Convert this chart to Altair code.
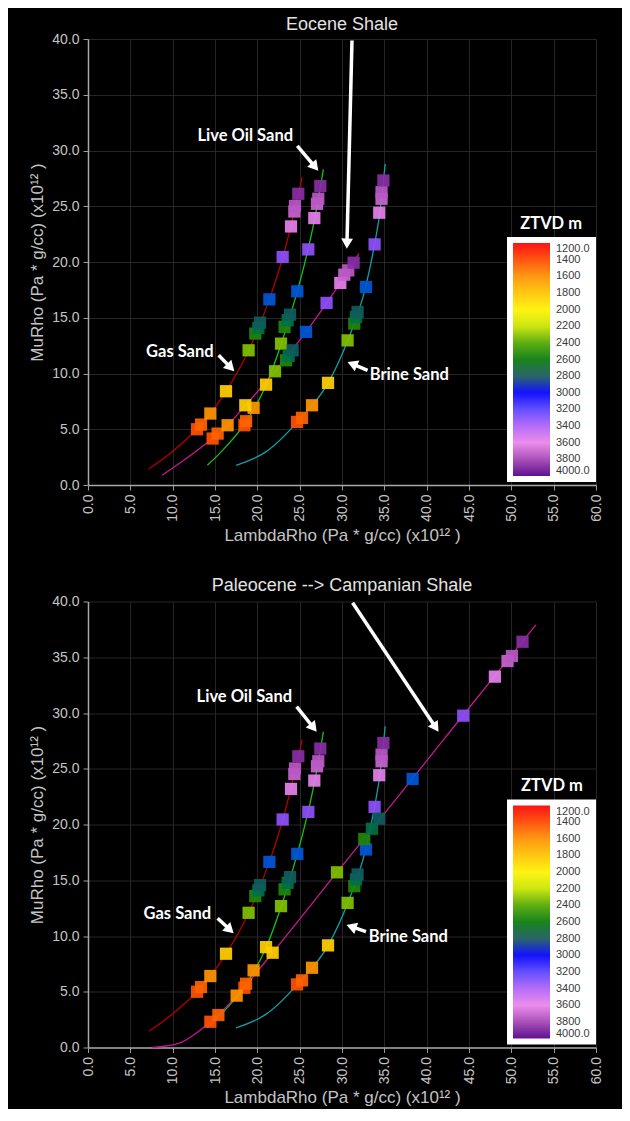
import math
import altair as alt
import pandas as pd

# ---------------- data ----------------
X_TICKS = [0, 5, 10, 15, 20, 25, 30, 35, 40, 45, 50, 55, 60]
Y_TICKS = [0, 5, 10, 15, 20, 25, 30, 35, 40]
DEPTH_TICKS = [1200, 1400, 1600, 1800, 2000, 2200, 2400, 2600, 2800, 3000,
               3200, 3400, 3600, 3800, 4000]
DEPTH_COLORS = ["#ff0000", "#ff4800", "#ff9000", "#ffc400", "#fff200", "#c8e400",
                "#52a800", "#087a0c", "#1a5a5e", "#0000ff", "#5a42ff", "#b062f6",
                "#ea84ea", "#a444b4", "#520086"]

# depth (ZTVD m) of the 14 samples along each trend, shallow -> deep
DEPTHS = [1420, 1460, 1620, 1850, 2320, 2550, 2680, 2790, 2920, 3300, 3580, 3700, 3740, 3870]

GAS_X = [12.88, 13.35, 14.45, 16.30, 18.97, 19.76, 20.12, 20.32, 21.42, 22.99, 23.98, 24.37, 24.45, 24.84]
GAS_Y = [5.00, 5.42, 6.41, 8.41, 12.08, 13.58, 14.09, 14.56, 16.65, 20.45, 23.19, 24.53, 25.02, 26.12]

OIL_X = [18.47, 18.67, 19.56, 21.03, 22.80, 23.22, 23.58, 23.86, 24.72, 26.02, 26.73, 27.05, 27.20, 27.44]
OIL_Y = [5.36, 5.72, 6.92, 9.00, 12.68, 14.18, 14.77, 15.28, 17.37, 21.13, 23.94, 25.22, 25.67, 26.81]

BRINE_X = [24.69, 25.28, 26.46, 28.35, 30.66, 31.45, 31.65, 31.84, 32.83, 33.85, 34.40, 34.67, 34.67, 34.89]
BRINE_Y = [5.66, 6.02, 7.15, 9.16, 12.97, 14.47, 15.07, 15.52, 17.76, 21.58, 24.42, 25.67, 26.27, 27.31]

EOC_X = [14.72, 15.31, 16.49, 18.58, 22.09, 23.39, 23.70, 24.17, 25.75, 28.18, 29.80, 30.27, 30.74, 31.37]
EOC_Y = [4.17, 4.61, 5.36, 7.15, 10.20, 11.18, 11.58, 12.08, 13.73, 16.33, 18.12, 18.86, 19.25, 19.94]

PAL_X = [14.45, 15.40, 17.56, 21.81, 29.41, 32.63, 33.54, 34.40, 38.34, 44.32, 48.06, 49.55, 50.07, 51.32]
PAL_Y = [2.31, 2.91, 4.65, 8.50, 15.71, 18.70, 19.62, 20.52, 24.08, 29.76, 33.26, 34.66, 35.11, 36.39]

# trend curves
GAS_CX = [7.2, 9.8, 13.1, 16.3, 19.0, 21.4, 23.0, 24.4, 25.3]
GAS_CY = [1.45, 2.9, 5.2, 8.4, 12.1, 16.6, 20.4, 24.6, 27.6]
OIL_CX = [14.1, 16.0, 18.6, 21.0, 22.8, 24.2, 25.6, 26.7, 27.8]
OIL_CY = [1.77, 3.2, 5.6, 8.9, 12.6, 16.0, 19.9, 23.6, 28.3]
BRINE_CX = [17.5, 21.0, 24.9, 28.4, 30.7, 32.8, 33.85, 34.5, 35.1]
BRINE_CY = [1.77, 2.97, 5.8, 9.2, 13.0, 17.8, 21.6, 24.6, 28.8]
EOC_CX = [8.75, 11.6, 14.9, 16.5, 18.6, 22.1, 25.75, 28.2, 30.3, 32.0]
EOC_CY = [0.88, 2.37, 4.3, 5.36, 7.15, 10.2, 13.73, 16.33, 18.7, 20.74]
PAL_CX = [7.6, 10.8, 12.8, 14.9, 17.6, 21.8, 29.4, 38.3, 44.3, 51.3, 52.9]
PAL_CY = [0.0, 0.4, 1.3, 2.6, 4.65, 8.5, 15.7, 24.1, 29.8, 36.4, 37.9]

CURVES = ["gas", "oil", "brine", "shale"]
LINE_COLORS = ["#b00000", "#18c018", "#12a0a8", "#c81890"]

# annotations (data units)
LABELS_TOP = [("Live Oil Sand", 18.58, 31.32), ("Gas Sand", 10.85, 11.96),
              ("Brine Sand", 37.95, 9.90), ("ZTVD m", 54.7, 23.42)]
LABELS_BOT = [("Live Oil Sand", 18.47, 31.43), ("Gas Sand", 10.55, 11.97),
              ("Brine Sand", 37.83, 9.91), ("ZTVD m", 54.8, 23.45)]
ARROWS_TOP = [(24.72, 30.42, 27.20, 28.18), (31.18, 39.86, 30.57, 21.19),
              (15.43, 11.63, 17.28, 10.20), (33.02, 10.29, 30.66, 11.04)]
ARROWS_BOT = [(24.64, 30.57, 27.01, 28.32), (31.25, 39.89, 41.40, 28.32),
              (15.31, 11.59, 17.20, 10.24), (32.83, 10.39, 30.54, 10.99)]

W, H = 508, 446
PX_X = W / 60.0
PX_Y = H / 40.0
HEAD = 5.1  # px from tip to triangle centre

NEG_TICKS = [-v for v in DEPTH_TICKS][::-1]
NEG_COLORS = DEPTH_COLORS[::-1]


def arrow_frames(arrows):
    lines, heads = [], []
    for x1, y1, x2, y2 in arrows:
        sx = (x2 - x1) * PX_X
        sy = -(y2 - y1) * PX_Y
        L = math.hypot(sx, sy)
        ux, uy = sx / L, sy / L
        cx = x2 - ux * HEAD / PX_X
        cy = y2 + uy * HEAD / PX_Y
        ang = math.degrees(math.atan2(ux, -uy)) % 360
        lines.append({"x1": x1, "y1": y1, "x2": cx, "y2": cy})
        heads.append({"hx": cx, "hy": cy, "ang": ang})
    return pd.DataFrame(lines), pd.DataFrame(heads)


AX_COL = "#c4c4c4"
FONT = "Liberation Sans"


def X(field):
    return alt.X(f"{field}:Q", scale=alt.Scale(domain=[0, 60], nice=False, zero=False),
                 axis=alt.Axis(values=X_TICKS, format=".1f", labelAngle=270,
                               labelFontSize=14, labelColor=AX_COL, labelFont=FONT,
                               labelPadding=4, tickSize=5, tickColor="#9a9a9a",
                               domainColor="#a8a8a8", domainWidth=1.5,
                               gridColor="#262626", labelFlush=False,
                               title="LambdaRho (Pa * g/cc) (x10¹² )",
                               titleColor=AX_COL, titleFont=FONT, titleFontSize=17,
                               titleFontWeight="normal", titlePadding=6))


def Y(field):
    return alt.Y(f"{field}:Q", scale=alt.Scale(domain=[0, 40], nice=False, zero=False),
                 axis=alt.Axis(values=Y_TICKS, format=".1f",
                               labelFontSize=14, labelColor=AX_COL, labelFont=FONT,
                               labelPadding=4, tickSize=5, tickColor="#9a9a9a",
                               domainColor="#a8a8a8", domainWidth=1.5,
                               gridColor="#262626", labelFlush=False,
                               title="MuRho  (Pa * g/cc) (x10¹² )",
                               titleColor=AX_COL, titleFont=FONT, titleFontSize=17,
                               titleFontWeight="normal", titlePadding=5))


def panel(title, title_offset, shale_x, shale_y, shale_cx, shale_cy, labels, arrows):
    sq = []
    for name, xs, ys in [("gas", GAS_X, GAS_Y), ("oil", OIL_X, OIL_Y),
                         ("brine", BRINE_X, BRINE_Y), ("shale", shale_x, shale_y)]:
        for xv, yv, d in zip(xs, ys, DEPTHS):
            sq.append({"x": xv, "y": yv, "depth": d, "curve": name})
    sq = pd.DataFrame(sq)

    cv = []
    for name, xs, ys in [("gas", GAS_CX, GAS_CY), ("oil", OIL_CX, OIL_CY),
                         ("brine", BRINE_CX, BRINE_CY), ("shale", shale_cx, shale_cy)]:
        for i, (xv, yv) in enumerate(zip(xs, ys)):
            cv.append({"x": xv, "y": yv, "curve": name, "i": i})
    cv = pd.DataFrame(cv)

    lab = pd.DataFrame([{"t": t, "lx": a, "ly": b} for t, a, b in labels])
    arr_l, arr_h = arrow_frames(arrows)

    lines = alt.Chart(cv).mark_line(strokeWidth=1.3, interpolate="monotone").encode(
        x=X("x"), y=Y("y"),
        stroke=alt.Stroke("curve:N", scale=alt.Scale(domain=CURVES, range=LINE_COLORS),
                          legend=None),
        detail="curve:N", order="i:Q")

    squares = alt.Chart(sq).transform_calculate(nd="-datum.depth").mark_square(
        size=150, opacity=0.93, filled=True).encode(
        x=X("x"), y=Y("y"),
        fill=alt.Fill("nd:Q",
                      scale=alt.Scale(domain=NEG_TICKS, range=NEG_COLORS),
                      legend=alt.Legend(orient="none", legendX=419, legendY=198,
                                        direction="vertical", title=None,
                                        gradientLength=233, gradientThickness=37,
                                        gradientStrokeWidth=0,
                                        fillColor="white", padding=6,
                                        values=NEG_TICKS,
                                        labelExpr="datum.value == -1200 || datum.value == -4000 ? format(-datum.value, '.1f') : format(-datum.value, 'd')",
                                        labelFont=FONT, labelFontSize=11,
                                        labelColor="#3a3a3a", labelOffset=6,
                                        labelOverlap=False)))

    rules = alt.Chart(arr_l).mark_rule(color="white", strokeWidth=3.5).encode(
        x=X("x1"), y=Y("y1"), x2="x2:Q", y2="y2:Q")
    heads = alt.Chart(arr_h).mark_point(shape="triangle-up", filled=True, size=140,
                                        color="white", opacity=1).encode(
        x=X("hx"), y=Y("hy"), angle=alt.Angle("ang:Q", scale=None))

    texts = alt.Chart(lab).mark_text(font="Lato", fontWeight="bold", fontSize=16.5,
                                     color="white", align="center",
                                     baseline="middle").encode(
        x=X("lx"), y=Y("ly"), text="t:N")

    return alt.layer(lines, squares, rules, heads, texts).properties(
        width=W, height=H,
        title=alt.TitleParams(title, color="#e2e2e2", fontSize=18, font=FONT,
                              fontWeight="normal", anchor="middle",
                              offset=title_offset))


top = panel("Eocene Shale", -2, EOC_X, EOC_Y, EOC_CX, EOC_CY, LABELS_TOP, ARROWS_TOP)
bot = panel("Paleocene --> Campanian Shale", 0, PAL_X, PAL_Y, PAL_CX, PAL_CY,
            LABELS_BOT, ARROWS_BOT)

chart = alt.vconcat(top, bot, spacing=31.5).resolve_scale(
    fill="independent", stroke="independent").properties(
    background="black",
    padding={"left": 20, "top": 7, "right": 18, "bottom": 2}).configure_view(
    stroke="transparent")

chart.save("out.html", embed_options={"renderer": "svg", "actions": False})
